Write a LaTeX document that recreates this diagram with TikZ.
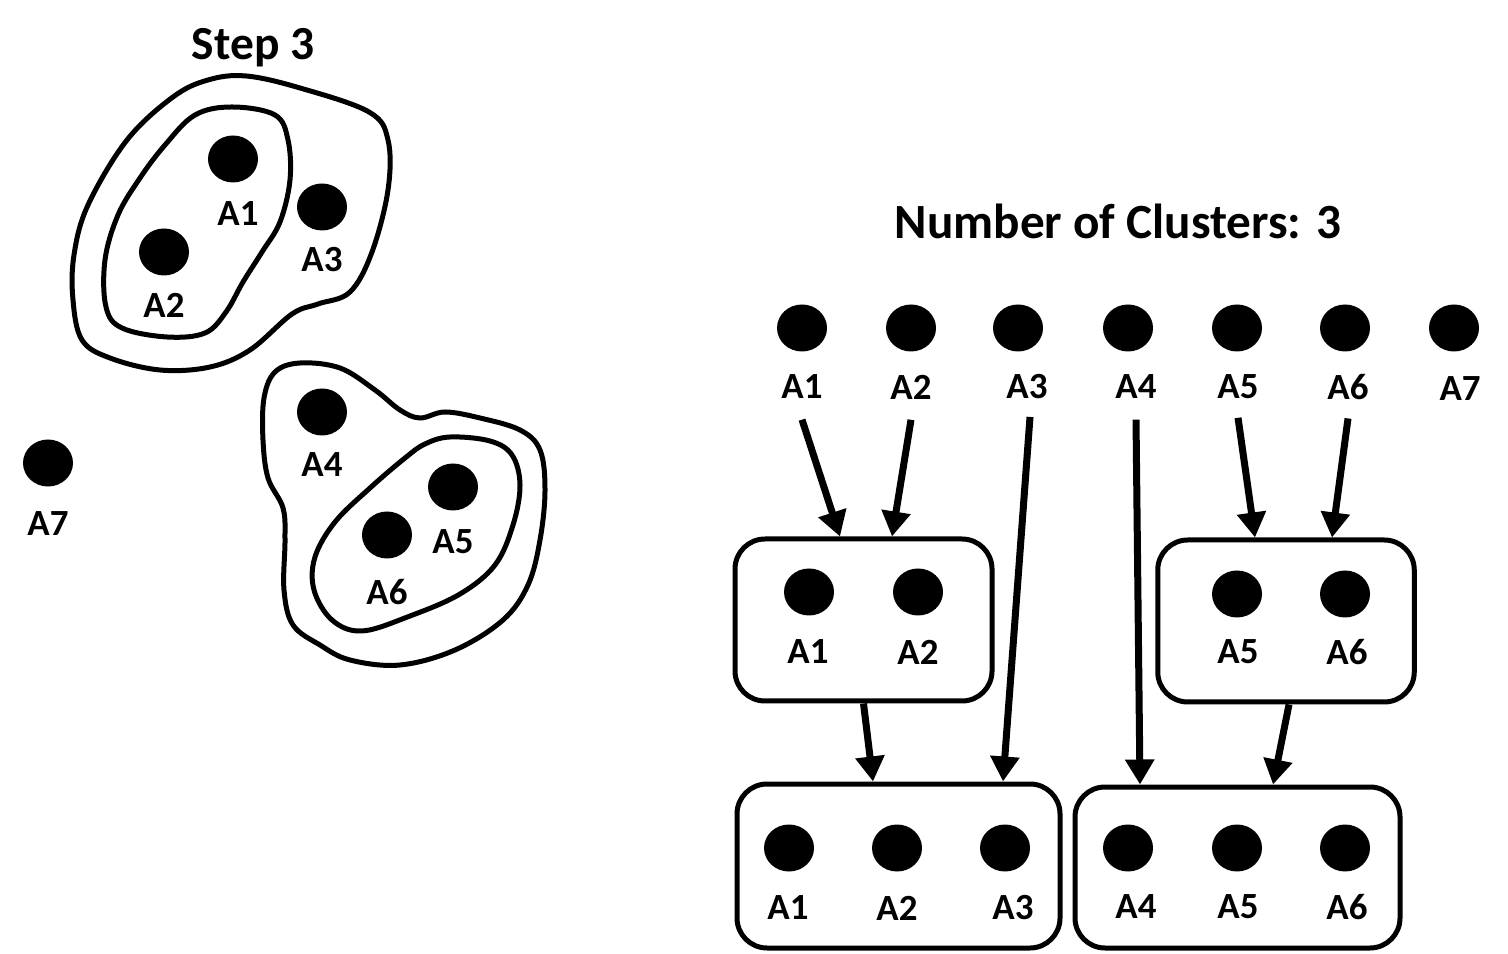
\documentclass[tikz,border=0pt]{standalone}
\usepackage{fontspec}
\setmainfont{Carlito}
\usepackage{tikz}
\usetikzlibrary{positioning,calc,shapes.geometric,arrows.meta}

\begin{document}
\begin{tikzpicture}[
                dotnode/.style={ellipse, fill=black, inner sep=0pt, minimum width=0.5cm, minimum height=0.47cm},
                labnode/.style={inner sep=0pt, font=\fontsize{10.5}{12}\selectfont\bfseries},
                boxnode/.style={draw, rounded corners=0.3cm, line width=0.05cm},
                blobline/.style={line width=0.05cm},
                arr/.style={line width=0.07cm, -{Triangle[width=0.28cm,length=0.25cm]}},
            ]

            \useasboundingbox (0,0) rectangle (15.08,9.53);

            \node[font=\fontsize{13.5}{15}\selectfont\bfseries] (steptitle) at (2.53, 9.05) {Step 3};

            % left: points
            \node[dotnode] (a1) at (2.33, 7.94) {};
            \node[labnode] (a1l) at (2.38, 7.39) {A1};
            \node[dotnode] (a2) at (1.64, 7.01) {};
            \node[labnode] (a2l) at (1.64, 6.48) {A2};
            \node[dotnode] (a3) at (3.22, 7.46) {};
            \node[labnode] (a3l) at (3.22, 6.93) {A3};
            \node[dotnode] (a4) at (3.22, 5.41) {};
            \node[labnode] (a4l) at (3.22, 4.88) {A4};
            \node[dotnode] (a5) at (4.53, 4.66) {};
            \node[labnode] (a5l) at (4.53, 4.11) {A5};
            \node[dotnode] (a6) at (3.87, 4.18) {};
            \node[labnode] (a6l) at (3.87, 3.61) {A6};
            \node[dotnode] (a7) at (0.48, 4.90) {};
            \node[labnode] (a7l) at (0.48, 4.29) {A7};

            % left: clusters
            \draw[blobline] plot[smooth cycle, tension=0.6] coordinates {
                (2.46,8.77) (3.00,8.65) (3.69,8.41) (3.88,8.13) (3.88,7.63) (3.72,7.01)
                (3.50,6.61) (3.18,6.49) (2.92,6.39) (2.50,6.03) (2.10,5.86) (1.60,5.83)
                (1.10,5.95) (0.82,6.13) (0.73,6.53) (0.74,6.98) (0.88,7.48) (1.27,8.13)
                (1.73,8.56) (2.08,8.73)};
            \draw[blobline] plot[smooth cycle, tension=0.6] coordinates {
                (2.32,8.46) (2.75,8.38) (2.88,8.13) (2.90,7.73) (2.80,7.31) (2.62,7.01)
                (2.43,6.71) (2.26,6.41) (2.05,6.20) (1.67,6.16) (1.22,6.25) (1.06,6.46)
                (1.05,6.93) (1.18,7.38) (1.40,7.75) (1.65,8.08) (1.95,8.38)};
            \draw[blobline] plot[smooth cycle, tension=0.6] coordinates {
                (3.00,5.90) (3.40,5.85) (3.75,5.63) (4.00,5.43) (4.20,5.35) (4.45,5.41)
                (4.80,5.35) (5.20,5.23) (5.40,5.03) (5.45,4.63) (5.40,4.13) (5.28,3.68)
                (5.03,3.33) (4.55,3.03) (4.00,2.88) (3.50,2.93) (3.20,3.08) (2.93,3.28)
                (2.84,3.63) (2.85,4.13) (2.83,4.45) (2.68,4.75) (2.63,5.13) (2.64,5.55)
                (2.75,5.81)};
            \draw[blobline] plot[smooth cycle, tension=0.6] coordinates {
                (4.50,5.16) (4.90,5.12) (5.12,4.98) (5.20,4.68) (5.13,4.28) (4.95,3.88)
                (4.60,3.59) (4.10,3.37) (3.62,3.22) (3.32,3.33) (3.14,3.63) (3.15,3.96)
                (3.35,4.31) (3.70,4.65) (4.05,4.95) (4.25,5.09)};

            % right: title
            \node[font=\fontsize{14}{17}\selectfont\bfseries] (numtitle) at (11.18, 7.32) {Number of Clusters: 3};

            % r0
            \node[dotnode] (ra1) at (8.02, 6.25) {};
            \node[labnode] (ra1l) at (8.02, 5.66) {A1};
            \node[dotnode] (ra2) at (9.11, 6.25) {};
            \node[labnode] (ra2l) at (9.11, 5.66) {A2};
            \node[dotnode] (ra3) at (10.18, 6.25) {};
            \node[labnode] (ra3l) at (10.27, 5.66) {A3};
            \node[dotnode] (ra4) at (11.28, 6.25) {};
            \node[labnode] (ra4l) at (11.36, 5.66) {A4};
            \node[dotnode] (ra5) at (12.37, 6.25) {};
            \node[labnode] (ra5l) at (12.38, 5.66) {A5};
            \node[dotnode] (ra6) at (13.45, 6.25) {};
            \node[labnode] (ra6l) at (13.48, 5.66) {A6};
            \node[dotnode] (ra7) at (14.54, 6.25) {};
            \node[labnode] (ra7l) at (14.60, 5.64) {A7};

            % r1
            \node[boxnode, minimum width=2.57cm, minimum height=1.62cm] (b12) at (8.635, 3.33) {};
            \node[dotnode] (b12a1) at (8.09, 3.61) {};
            \node[labnode] (b12a1l) at (8.08, 3.01) {A1};
            \node[dotnode] (b12a2) at (9.18, 3.61) {};
            \node[labnode] (b12a2l) at (9.18, 3.01) {A2};

            \node[boxnode, minimum width=2.565cm, minimum height=1.62cm] (b56) at (12.86, 3.32) {};
            \node[dotnode] (b56a5) at (12.37, 3.59) {};
            \node[labnode] (b56a5l) at (12.38, 3.01) {A5};
            \node[dotnode] (b56a6) at (13.45, 3.59) {};
            \node[labnode] (b56a6l) at (13.47, 3.01) {A6};

            % r2
            \node[boxnode, minimum width=3.23cm, minimum height=1.64cm] (b123) at (8.985, 0.87) {};
            \node[dotnode] (b123a1) at (7.89, 1.05) {};
            \node[labnode] (b123a1l) at (7.88, 0.45) {A1};
            \node[dotnode] (b123a2) at (8.97, 1.05) {};
            \node[labnode] (b123a2l) at (8.97, 0.45) {A2};
            \node[dotnode] (b123a3) at (10.05, 1.05) {};
            \node[labnode] (b123a3l) at (10.13, 0.45) {A3};

            \node[boxnode, minimum width=3.25cm, minimum height=1.61cm] (b456) at (12.375, 0.855) {};
            \node[dotnode] (b456a4) at (11.28, 1.05) {};
            \node[labnode] (b456a4l) at (11.36, 0.46) {A4};
            \node[dotnode] (b456a5) at (12.37, 1.05) {};
            \node[labnode] (b456a5l) at (12.38, 0.46) {A5};
            \node[dotnode] (b456a6) at (13.45, 1.05) {};
            \node[labnode] (b456a6l) at (13.47, 0.46) {A6};

            % merges
            \draw[arr] ([yshift=-0.2cm]ra1l.south) -- ([xshift=-0.235cm]b12.north);
            \draw[arr] ([yshift=-0.2cm]ra2l.south) -- ([xshift=0.285cm]b12.north);
            \draw[arr] ([xshift=0.03cm, yshift=-0.17cm]ra3l.south) -- ([xshift=1.045cm]b123.north);
            \draw[arr] ([yshift=-0.2cm]ra4l.south) -- ([xshift=-0.975cm]b456.north);
            \draw[arr] ([yshift=-0.18cm]ra5l.south) -- ([xshift=-0.31cm]b56.north);
            \draw[arr] ([yshift=-0.18cm]ra6l.south) -- ([xshift=0.46cm]b56.north);
            \draw[arr] (b12.south) -- ([xshift=-0.255cm]b123.north);
            \draw[arr] ([xshift=0.03cm]b56.south) -- ([xshift=0.355cm]b456.north);
        \end{tikzpicture}
\end{document}
